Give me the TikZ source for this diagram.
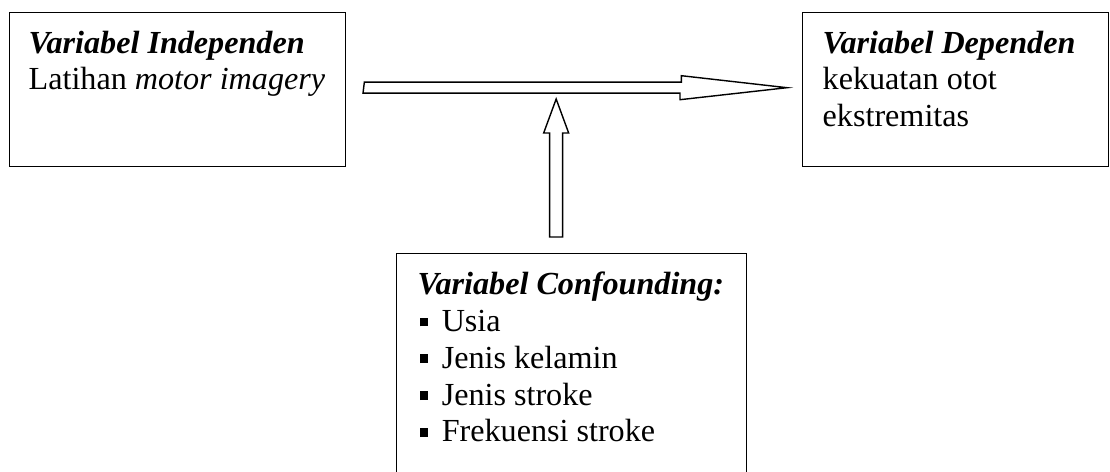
\documentclass[tikz,border=0pt]{standalone}
\usepackage{fontspec}
\setmainfont{Liberation Serif}
\newcommand{\sqb}{\rule[2.8pt]{4.5pt}{5pt}\hspace{8pt}}

\begin{document}
\begin{tikzpicture}[x=0.02cm,y=-0.02cm,line width=.8pt,
  font=\fontsize{18.3}{21}\selectfont,
  box/.style={draw,anchor=north west,inner sep=0pt},
  txt/.style={anchor=north west,align=left,inner sep=0pt},
  hollow/.style={draw,fill=white,line join=miter}]
  \useasboundingbox (0,0) rectangle (1110,471);
  \clip (0,0) rectangle (1110,471);
  \node[box,minimum width=6.72cm,minimum height=3.08cm] (indep) at (9,12) {};
  \node[box,minimum width=6.12cm,minimum height=3.08cm] (dep) at (802,12) {};
  \node[box,minimum width=7cm,minimum height=5.2cm] (conf) at (396,253) {};
  \node[txt] (indeptxt) at ([shift={(19,18)}]indep.north west)
    {\textbf{\textit{Variabel Independen}}\\Latihan \textit{motor imagery}};
  \node[txt] (deptxt) at ([shift={(20,18)}]dep.north west)
    {\textbf{\textit{Variabel Dependen}}\\kekuatan otot\\ekstremitas};
  \node[txt] (conftxt) at ([shift={(21,18)}]conf.north west)
    {\textbf{\textit{Variabel Confounding:}}\\
     \hspace*{1.2pt}\sqb Usia\\
     \hspace*{1.2pt}\sqb Jenis kelamin\\
     \hspace*{1.2pt}\sqb Jenis stroke\\
     \hspace*{1.2pt}\sqb Frekuensi stroke};
  \coordinate (hfrom) at ([shift={(18,-2)}]indep.east);
  \coordinate (hto) at ([shift={(-15,-2)}]dep.west);
  \draw[hollow] (hfrom) ++(0,-5.5) -- ++(317,0) -- ++(0,-6.5) -- (hto)
    -- ++(-107,12) -- ++(0,-6.5) -- ++(-317,0) -- cycle;
  \coordinate (vfrom) at ([shift={(-15.5,-16)}]conf.north);
  \coordinate (vto) at ([shift={(0,-138)}]vfrom);
  \draw[hollow] (vfrom) ++(-6.5,0) -- ++(0,-104) -- ++(-6,0) -- (vto)
    -- ++(12.5,34) -- ++(-6,0) -- ++(0,104) -- cycle;
\end{tikzpicture}
\end{document}
